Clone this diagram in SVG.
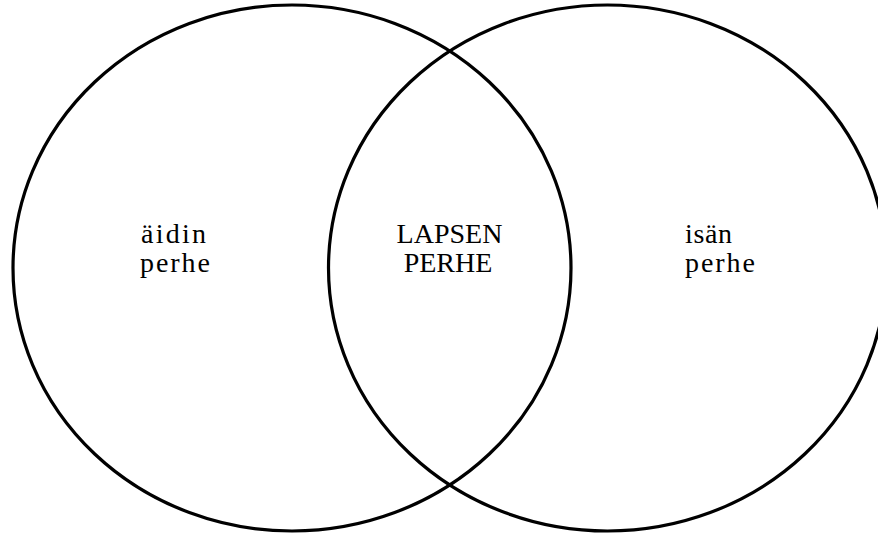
<svg xmlns="http://www.w3.org/2000/svg" width="878" height="533" viewBox="0 0 878 533">
<style>
.c{fill:none;stroke:#000;stroke-width:3.2}
.t{font-family:"Liberation Serif","Times New Roman",serif;font-size:28px;fill:#000}
</style>
<rect width="878" height="533" fill="#fff"/>
<g id="mother">
<ellipse class="c" cx="292" cy="268" rx="279" ry="263"/>
<text class="t" x="141" y="243" textLength="65">äidin</text>
<text class="t" x="140" y="272" textLength="70">perhe</text>
</g>
<g id="father">
<ellipse class="c" cx="607.5" cy="268" rx="279" ry="263"/>
<text class="t" x="685" y="243" textLength="47">isän</text>
<text class="t" x="685" y="272" textLength="70">perhe</text>
</g>
<g id="child">
<text class="t" x="449.5" y="243" text-anchor="middle">LAPSEN</text>
<text class="t" x="448" y="272" text-anchor="middle">PERHE</text>
</g>
<g id="connectors"/>
</svg>
